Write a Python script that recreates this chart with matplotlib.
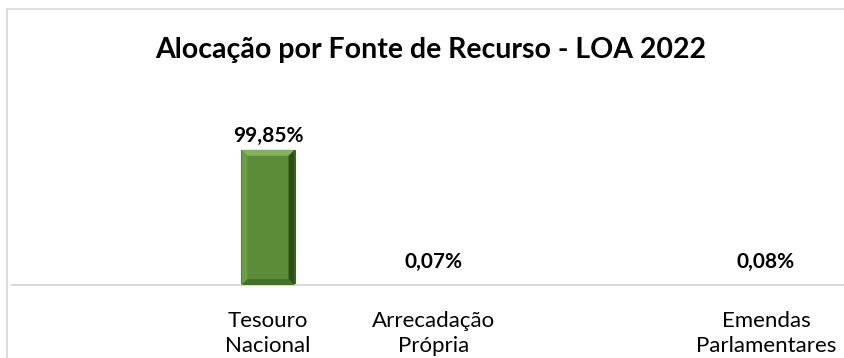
import numpy as np
import matplotlib
matplotlib.use('Agg')
import matplotlib.pyplot as plt
from matplotlib.patches import Rectangle, Polygon

plt.rcParams['font.family'] = ['Lato', 'DejaVu Sans']

# Fontes de recurso (slots vazios mantêm o espaçamento das categorias)
categorias = ['', 'Tesouro\nNacional', 'Arrecadação\nPrópria', '', 'Emendas\nParlamentares']
percentuais = [np.nan, 99.85, 0.07, np.nan, 0.08]
rotulos = ['', '99,85%', '0,07%', '', '0,08%']
titulo = 'Alocação por Fonte de Recurso - LOA 2022'

W, H = 845, 358
fig = plt.figure(figsize=(W / 100, H / 100), dpi=100)

# moldura cinza da área do gráfico
fig.patches.append(Rectangle((7 / W, -0.1), 1.2, 1 - 9 / H + 0.1,
                             transform=fig.transFigure, fill=False,
                             edgecolor='#d9d9d9', linewidth=1.2))

ax_left, ax_right = 12, 850
ax_bottom, ax_top = 285, 128
ax = fig.add_axes([ax_left / W, 1 - ax_bottom / H,
                   (ax_right - ax_left) / W, (ax_bottom - ax_top) / H])
ax.set_facecolor('none')

x = np.arange(len(categorias))
ax.set_xlim(-0.542, 4.506)
ax.set_ylim(0, 116)

valores = np.nan_to_num(np.array(percentuais, dtype=float))
barras = ax.bar(x, valores, width=0.32, color='#5a8b36', edgecolor='#3d6124',
                linewidth=0.8, zorder=2)

# efeito de chanfro: faixa clara no topo, escura à direita
inv = ax.transData.inverted()
p0 = inv.transform((0, 0))
p1 = inv.transform((6, 6))
dx, dy = p1[0] - p0[0], p1[1] - p0[1]
for b in barras:
    if b.get_height() < 5:
        continue
    x0, x1 = b.get_x(), b.get_x() + b.get_width()
    y1 = b.get_height()
    ax.add_patch(Polygon([(x0, y1), (x1, y1), (x1 - dx, y1 - dy), (x0 + dx, y1 - dy)],
                         color='#82b35c', zorder=3, linewidth=0))
    ax.add_patch(Polygon([(x1, y1), (x1, 0), (x1 - dx, dy), (x1 - dx, y1 - dy)],
                         color='#2f4c1b', zorder=3, linewidth=0))
    ax.add_patch(Polygon([(x0, 0), (x1, 0), (x1 - dx, dy), (x0 + dx, dy)],
                         color='#466f2a', zorder=3, linewidth=0))
    ax.add_patch(Polygon([(x0, y1), (x0, 0), (x0 + dx, dy), (x0 + dx, y1 - dy)],
                         color='#6a9c44', zorder=3, linewidth=0))

for b, txt in zip(barras, rotulos):
    if not txt:
        continue
    off = 4 if b.get_height() > 50 else 13
    ax.annotate(txt, (b.get_x() + b.get_width() / 2, b.get_height()),
                xytext=(0, off * 0.72), textcoords='offset points',
                ha='center', va='bottom', fontsize=15, fontweight='bold',
                color='#000000')

ax.set_xticks(x)
ax.set_xticklabels(categorias, fontsize=16, linespacing=1.3, color='#000000')
ax.tick_params(axis='x', length=0, pad=19)
ax.set_yticks([])
for s in ['top', 'left', 'right']:
    ax.spines[s].set_visible(False)
ax.spines['bottom'].set_color('#d9d9d9')
ax.spines['bottom'].set_linewidth(1.5)

fig.text(431 / W, 1 - 58 / H, titulo, ha='center', va='baseline',
         fontsize=20.5, fontweight='bold', color='#000000')

fig.savefig('out.png', dpi=100)
